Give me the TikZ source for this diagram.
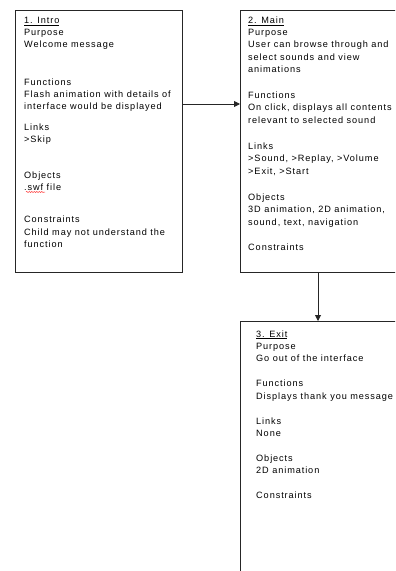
\documentclass[tikz,border=0pt]{standalone}
\usepackage{fontspec}
\setmainfont{Liberation Sans}[LetterSpace=10]
\usetikzlibrary{arrows.meta,decorations.pathmorphing}
\tikzset{
  boxline/.style={draw=black!85, line width=0.9bp},
  frame/.style={boxline, rectangle, inner sep=0pt, anchor=north west},
  txt/.style={anchor=base west, inner sep=0pt, font=\fontsize{9.2}{11}\selectfont},
  head/.style={txt},
  arr/.style={draw=black!85, line width=0.9bp, -{Triangle[length=6bp,width=6bp]}},
}
\newcommand{\ul}[1]{\underline{#1}}
\begin{document}
\begin{tikzpicture}[x=1bp,y=-1bp]
\useasboundingbox (0,0) rectangle (395,571);
\clip (0,0) rectangle (395,571);
% boxes
\node[frame, minimum width=167bp, minimum height=262bp] (b1) at (15,10) {};
\node[frame, minimum width=175bp, minimum height=262bp] (b2) at (240,10) {};
\node[frame, minimum width=175bp, minimum height=270bp] (b3) at (240,321) {};
% connectors
\path (b1.north east) ++(0,94) coordinate (a1s);
\path (b2.south west) ++(78,0) coordinate (a2s);
\draw[arr] (a1s) -- (a1s -| b2.west);
\draw[arr] (a2s) -- (a2s |- b3.north);
% box 1 text
\node[head] (t1a) at (24,24) {\ul{1. Intro}};
\node[txt] (t1b) at (24,36) {Purpose};
\node[txt] (t1c) at (24,48) {Welcome message};
\node[txt] (t1d) at (24,86) {Functions};
\node[txt] (t1e) at (24,98) {Flash animation with details of};
\node[txt] (t1f) at (24,110) {interface would be displayed};
\node[txt] (t1g) at (24,131) {Links};
\node[txt] (t1h) at (24,143) {>Skip};
\node[txt] (t1i) at (24,178) {Objects};
\node[txt] (t1j) at (24,190) {.swf file};
\node[txt] (t1k) at (24,222) {Constraints};
\node[txt] (t1l) at (24,235) {Child may not understand the};
\node[txt] (t1m) at (24,247) {function};
\draw[red!80, line width=0.5bp, decorate, decoration={snake, amplitude=0.6bp, segment length=2.5bp}]
  ([xshift=2bp,yshift=-2bp]t1j.base west) -- ([xshift=21bp,yshift=-2bp]t1j.base west);
% box 2 text
\node[head] (t2a) at (248,24) {\ul{2. Main}};
\node[txt] (t2b) at (248,36) {Purpose};
\node[txt] (t2c) at (248,48) {User can browse through and};
\node[txt] (t2d) at (248,61) {select sounds and view};
\node[txt] (t2e) at (248,73) {animations};
\node[txt] (t2f) at (248,99) {Functions};
\node[txt] (t2g) at (248,111) {On click, displays all contents};
\node[txt] (t2h) at (248,124) {relevant to selected sound};
\node[txt] (t2i) at (248,150) {Links};
\node[txt] (t2j) at (248,162) {>Sound, >Replay, >Volume};
\node[txt] (t2k) at (248,174) {>Exit, >Start};
\node[txt] (t2l) at (248,200) {Objects};
\node[txt] (t2m) at (248,212) {3D animation, 2D animation,};
\node[txt] (t2n) at (248,225) {sound, text, navigation};
\node[txt] (t2o) at (248,250) {Constraints};
% box 3 text
\node[head] (t3a) at (256,337) {\ul{3. Exit}};
\node[txt] (t3b) at (256,349) {Purpose};
\node[txt] (t3c) at (256,361) {Go out of the interface};
\node[txt] (t3d) at (256,386) {Functions};
\node[txt] (t3e) at (256,399) {Displays thank you message};
\node[txt] (t3f) at (256,424) {Links};
\node[txt] (t3g) at (256,436) {None};
\node[txt] (t3h) at (256,461) {Objects};
\node[txt] (t3i) at (256,473) {2D animation};
\node[txt] (t3j) at (256,498) {Constraints};
\end{tikzpicture}
\end{document}
